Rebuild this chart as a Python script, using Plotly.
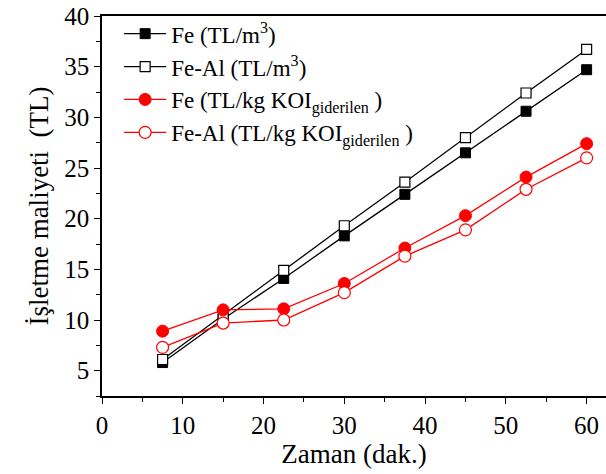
import plotly.graph_objects as go

zaman = [7.5, 15, 22.5, 30, 37.5, 45, 52.5, 60]
fe_m3 = [5.8, 10.1, 14.1, 18.3, 22.4, 26.5, 30.6, 34.7]
feal_m3 = [6.1, 10.5, 14.9, 19.3, 23.6, 28.0, 32.4, 36.7]
fe_kg = [8.9, 11.0, 11.1, 13.6, 17.1, 20.3, 24.1, 27.4]
feal_kg = [7.3, 9.7, 10.0, 12.7, 16.3, 18.9, 22.9, 26.0]

names = [
    "Fe (TL/m<sup>3</sup>)",
    "Fe-Al (TL/m<sup>3</sup>)",
    "Fe (TL/kg KOI<sub>giderilen</sub> )",
    "Fe-Al (TL/kg KOI<sub>giderilen</sub> )",
]

FONT = "Liberation Serif"

fig = go.Figure()
fig.add_trace(go.Scatter(x=zaman, y=fe_m3, name=names[0], mode="lines+markers",
                         line=dict(color="black", width=1.3),
                         marker=dict(symbol="square", size=10, color="black",
                                     line=dict(color="black", width=1))))
fig.add_trace(go.Scatter(x=zaman, y=feal_m3, name=names[1], mode="lines+markers",
                         line=dict(color="black", width=1.3),
                         marker=dict(symbol="square", size=10, color="white",
                                     line=dict(color="black", width=1.2))))
fig.add_trace(go.Scatter(x=zaman, y=fe_kg, name=names[2], mode="lines+markers",
                         line=dict(color="red", width=1.3),
                         marker=dict(symbol="circle", size=12, color="red",
                                     line=dict(color="red", width=1))))
fig.add_trace(go.Scatter(x=zaman, y=feal_kg, name=names[3], mode="lines+markers",
                         line=dict(color="red", width=1.3),
                         marker=dict(symbol="circle", size=12, color="white",
                                     line=dict(color="red", width=1.2))))

fig.update_layout(
    width=606, height=474,
    margin=dict(l=102, r=0, t=16, b=78),
    paper_bgcolor="white", plot_bgcolor="white",
    font=dict(family=FONT, size=23, color="black"),
    showlegend=True,
    legend=dict(x=0.034, y=1.01, xanchor="left", yanchor="top",
                bgcolor="rgba(0,0,0,0)", font=dict(family=FONT, size=23),
                tracegroupgap=0, itemwidth=42),
)
fig.update_xaxes(
    range=[0, 62.4], tickmode="linear", tick0=0, dtick=10,
    automargin=False, ticklabeloverflow="allow",
    showgrid=False, zeroline=False,
    showline=True, linecolor="black", linewidth=1.5, mirror=True,
    ticks="outside", ticklen=6, tickwidth=1.2, tickcolor="black",
    minor=dict(dtick=5, tick0=0, ticks="outside", ticklen=4, tickcolor="black", tickwidth=1.2),
    tickfont=dict(family=FONT, size=25),
    title=dict(text="Zaman (dak.)", font=dict(family=FONT, size=27), standoff=4),
)
fig.update_yaxes(
    range=[2.5, 40], tickmode="linear", tick0=0, dtick=5,
    automargin=False, ticklabeloverflow="allow",
    showgrid=False, zeroline=False,
    showline=True, linecolor="black", linewidth=1.5, mirror=False,
    ticks="outside", ticklen=6, tickwidth=1.2, tickcolor="black",
    minor=dict(dtick=2.5, tick0=0, ticks="outside", ticklen=4, tickcolor="black", tickwidth=1.2),
    tickfont=dict(family=FONT, size=25),
    title=dict(text="İşletme maliyeti\u00a0\u00a0(TL)", font=dict(family=FONT, size=27), standoff=8),
)

fig.write_html("out.html", config={"displayModeBar": False},
               post_script="document.body.style.margin='0';")
